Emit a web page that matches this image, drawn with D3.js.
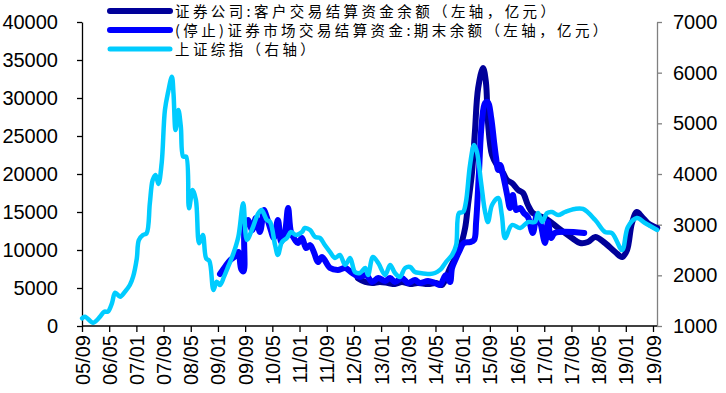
<!DOCTYPE html>
<html>
<head>
<meta charset="utf-8">
<script src="https://cdn.jsdelivr.net/npm/d3@7"></script>
<style>
  body { margin: 0; background: #fff; }
  svg { display: block; }
</style>
</head>
<body>
<div id="chart"></div>
<script>
// tick labels, every 8 months
const xLabels = ["05/09","06/05","07/01","07/09","08/05","09/01","09/09","10/05","11/01","11/09","12/05",
  "13/01","13/09","14/05","15/01","15/09","16/05","17/01","17/09","18/05","19/01","19/09"];
const leftTicks = [0, 5000, 10000, 15000, 20000, 25000, 30000, 35000, 40000];
const rightTicks = [1000, 2000, 3000, 4000, 5000, 6000, 7000];

const seriesNames = [
  "证券公司:客户交易结算资金余额（左轴，亿元）",
  "(停止)证券市场交易结算资金:期末余额（左轴，亿元）",
  "上证综指（右轴）"
];

// [decimal year, value]
const brokerFunds = [
  [2012.43, 6300], [2012.61, 5790], [2012.78, 5660], [2012.97, 5790], [2013.17, 5660],
  [2013.34, 5530], [2013.51, 5790], [2013.71, 5530], [2013.90, 5660], [2014.15, 5530],
  [2014.35, 5660], [2014.49, 5400], [2014.69, 7630], [2014.93, 10260], [2015.06, 12900],
  [2015.13, 15920], [2015.23, 20260], [2015.30, 25530], [2015.38, 31320], [2015.50, 33950],
  [2015.57, 32100], [2015.62, 26840], [2015.72, 22500], [2015.84, 21180], [2015.99, 20130],
  [2016.09, 19200], [2016.21, 18820], [2016.36, 17900], [2016.48, 17500], [2016.60, 15920],
  [2016.72, 14870], [2016.95, 14340], [2017.09, 13950], [2017.34, 12900], [2017.68, 11580],
  [2017.88, 10920], [2018.07, 11050], [2018.25, 11710], [2018.49, 10920], [2018.74, 9740],
  [2018.91, 9080], [2019.03, 10000], [2019.15, 13550], [2019.27, 15000], [2019.40, 14340],
  [2019.54, 13550], [2019.77, 12900]
];

const marketFunds = [
  [2009.05, 6840], [2009.17, 7760], [2009.30, 8680], [2009.40, 9080], [2009.50, 9740],
  [2009.57, 7500], [2009.63, 7200], [2009.66, 13300], [2009.74, 13950], [2009.84, 12600],
  [2009.93, 14200], [2010.03, 12370], [2010.13, 15260], [2010.18, 14600], [2010.28, 12900],
  [2010.37, 11580], [2010.47, 13950], [2010.55, 11050], [2010.64, 12240], [2010.72, 15530],
  [2010.79, 12370], [2010.89, 11300], [2010.96, 10920], [2011.06, 11580], [2011.16, 10260],
  [2011.26, 10650], [2011.36, 9600], [2011.45, 8420], [2011.55, 9080], [2011.75, 7630],
  [2011.94, 7370], [2012.12, 7630], [2012.29, 6970], [2012.48, 6450], [2012.63, 6710],
  [2012.78, 5790], [2012.93, 6320], [2013.10, 5920], [2013.22, 6320], [2013.34, 5790],
  [2013.51, 6320], [2013.66, 5660], [2013.83, 6050], [2013.95, 5660], [2014.15, 5920],
  [2014.32, 5660], [2014.44, 5400], [2014.59, 6710], [2014.69, 5790], [2014.74, 7630],
  [2014.84, 8950], [2014.93, 10000], [2015.03, 10920], [2015.18, 11050], [2015.28, 11300],
  [2015.33, 13700], [2015.40, 20260], [2015.47, 26840], [2015.55, 29340], [2015.62, 29470],
  [2015.70, 27370], [2015.77, 24210], [2015.82, 22100], [2015.87, 20530], [2015.92, 21180],
  [2015.99, 19870], [2016.09, 17240], [2016.16, 15530], [2016.23, 17240], [2016.31, 15260],
  [2016.41, 15530], [2016.50, 14870], [2016.60, 14340], [2016.72, 12240], [2016.82, 14600],
  [2016.90, 13680], [2017.02, 10920], [2017.09, 13680], [2017.17, 11580], [2017.26, 12240],
  [2017.98, 12240]
];

const shIndex = [
  [2005.67, 1152], [2005.74, 1184], [2005.94, 1066], [2006.11, 1184], [2006.21, 1283],
  [2006.30, 1283], [2006.40, 1448], [2006.48, 1657], [2006.60, 1579], [2006.72, 1677],
  [2006.84, 1809], [2006.92, 1974], [2007.01, 2330], [2007.06, 2697], [2007.16, 2796],
  [2007.25, 2829], [2007.33, 3422], [2007.40, 3882], [2007.47, 3980], [2007.54, 3803],
  [2007.62, 4211], [2007.70, 5263], [2007.78, 5624], [2007.87, 5921], [2007.91, 5592],
  [2007.96, 4868], [2008.03, 5263], [2008.09, 4933], [2008.15, 4342], [2008.22, 4342],
  [2008.29, 3323], [2008.38, 3684], [2008.46, 3487], [2008.54, 2632], [2008.63, 2796],
  [2008.71, 2336], [2008.79, 2283], [2008.89, 1711], [2008.97, 1875], [2009.05, 1809],
  [2009.15, 1974], [2009.25, 2171], [2009.38, 2435], [2009.50, 2763], [2009.62, 3422],
  [2009.71, 2697], [2009.83, 2895], [2009.99, 3224], [2010.07, 3290], [2010.20, 3092],
  [2010.28, 3050], [2010.40, 2598], [2010.47, 2401], [2010.57, 2658], [2010.69, 2737],
  [2010.79, 2855], [2010.91, 2796], [2011.06, 2855], [2011.13, 2934], [2011.26, 2895],
  [2011.38, 2757], [2011.50, 2737], [2011.62, 2599], [2011.75, 2460], [2011.87, 2342],
  [2011.99, 2401], [2012.12, 2204], [2012.24, 2342], [2012.36, 2066], [2012.48, 2046],
  [2012.61, 2145], [2012.68, 2007], [2012.80, 2362], [2012.93, 2243], [2013.10, 2007],
  [2013.22, 2204], [2013.34, 2046], [2013.46, 1967], [2013.59, 2145], [2013.71, 2164],
  [2013.83, 2066], [2013.95, 2046], [2014.20, 2026], [2014.32, 2046], [2014.44, 2105],
  [2014.49, 2145], [2014.59, 2263], [2014.74, 2401], [2014.84, 2599], [2014.91, 3230],
  [2015.01, 3250], [2015.08, 3447], [2015.18, 4177], [2015.28, 4572], [2015.35, 4434],
  [2015.45, 3842], [2015.55, 3250], [2015.62, 3052], [2015.72, 3388], [2015.87, 3526],
  [2015.96, 3190], [2016.04, 2737], [2016.21, 2993], [2016.41, 2934], [2016.60, 3052],
  [2016.77, 3052], [2016.85, 3230], [2016.95, 3052], [2017.07, 3230], [2017.19, 3250],
  [2017.34, 3190], [2017.51, 3250], [2017.75, 3310], [2017.95, 3310], [2018.25, 3092],
  [2018.49, 2855], [2018.66, 2835], [2018.91, 2500], [2019.05, 2953], [2019.27, 3131],
  [2019.47, 3033], [2019.77, 2895]
];

const colors = ["#000099", "#0000FF", "#00CCFF"];

const width = 726, height = 393;
const plotLeft = 82, plotRight = 657, plotTop = 22, plotBottom = 326;

const svg = d3.select("#chart").append("svg")
  .attr("width", width)
  .attr("height", height)
  .attr("font-family", "'Liberation Sans', Arial, sans-serif");

const x0 = 2005 + 8 / 12;
const xTicks = xLabels.map((d, i) => x0 + i * 8 / 12);
const x = d3.scaleLinear().domain([x0, xTicks[xTicks.length - 1]]).range([plotLeft, 653]);
const yL = d3.scaleLinear().domain([0, 40000]).range([plotBottom, plotTop]);
const yR = d3.scaleLinear().domain([1000, 7000]).range([plotBottom, plotTop]);

// left axis
const gL = svg.append("g")
  .attr("transform", `translate(${plotLeft},0)`)
  .call(d3.axisLeft(yL).tickValues(leftTicks).tickSize(5).tickSizeOuter(0).tickPadding(19).tickFormat(d3.format("d")));
gL.select(".domain").attr("stroke", "#000").attr("stroke-width", 1.3);
gL.selectAll(".tick line").attr("stroke", "#000").attr("stroke-width", 1.3);
gL.selectAll("text").attr("font-size", 20).attr("fill", "#000").attr("font-family", "'Liberation Sans', Arial, sans-serif");

// right axis
const gR = svg.append("g")
  .attr("transform", `translate(${plotRight},0)`)
  .call(d3.axisRight(yR).tickValues(rightTicks).tickSize(5).tickSizeOuter(0).tickPadding(11).tickFormat(d3.format("d")));
gR.select(".domain").attr("stroke", "#808080").attr("stroke-width", 1.3);
gR.selectAll(".tick line").attr("stroke", "#808080").attr("stroke-width", 1.3);
gR.selectAll("text").attr("font-size", 20).attr("fill", "#000").attr("font-family", "'Liberation Sans', Arial, sans-serif");

// bottom axis
const gX = svg.append("g")
  .attr("transform", `translate(0,${plotBottom})`)
  .call(d3.axisBottom(x).tickValues(xTicks).tickSize(6).tickSizeOuter(0).tickFormat((d, i) => xLabels[i]));
gX.select(".domain").remove();
gX.append("line").attr("x1", plotLeft).attr("x2", plotRight).attr("stroke", "#000").attr("stroke-width", 1.3);
gX.selectAll(".tick line").attr("stroke", "#000").attr("stroke-width", 1.3);
gX.selectAll("text")
  .attr("font-size", 20)
  .attr("fill", "#000")
  .attr("font-family", "'Liberation Sans', Arial, sans-serif")
  .attr("transform", "rotate(-90)")
  .attr("text-anchor", "end")
  .attr("x", -9)
  .attr("y", 0)
  .attr("dy", "0.35em");

// lines
const lineL = d3.line().x(d => x(d[0])).y(d => yL(d[1])).curve(d3.curveCatmullRom.alpha(0.5));
const lineR = d3.line().x(d => x(d[0])).y(d => yR(d[1])).curve(d3.curveCatmullRom.alpha(0.5));

const plotData = [
  { data: brokerFunds, line: lineL, width: 6 },
  { data: marketFunds, line: lineL, width: 6 },
  { data: shIndex, line: lineR, width: 4.5 }
];

svg.append("g")
  .attr("fill", "none")
  .attr("stroke-linejoin", "round")
  .attr("stroke-linecap", "round")
  .selectAll("path")
  .data(plotData)
  .join("path")
  .attr("stroke", (d, i) => colors[i])
  .attr("stroke-width", d => d.width)
  .attr("d", d => d.line(d.data));

// legend
const legend = svg.append("g")
  .selectAll("g")
  .data(seriesNames)
  .join("g")
  .attr("transform", (d, i) => `translate(110,${11 + i * 19})`);

legend.append("line")
  .attr("x1", 0).attr("x2", 60)
  .attr("stroke", (d, i) => colors[i])
  .attr("stroke-width", (d, i) => i < 2 ? 6 : 5)
  .attr("stroke-linecap", "round");

legend.append("text")
  .attr("x", 65)
  .attr("dy", "0.38em")
  .attr("font-size", 14.5)
  .attr("letter-spacing", 3.4)
  .attr("font-family", "'Noto Sans CJK SC', sans-serif")
  .attr("fill", "#000")
  .text(d => d);
</script>
</body>
</html>
